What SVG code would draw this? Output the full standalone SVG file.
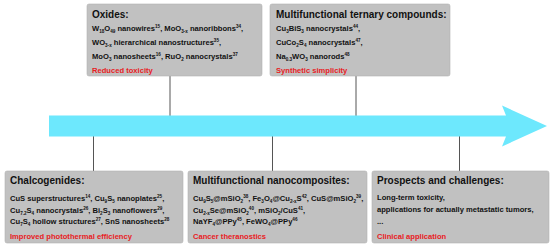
<svg xmlns="http://www.w3.org/2000/svg" width="554" height="248" viewBox="0 0 554 248">
<style>
.box{fill:#c1c1c1;stroke:#b3b3b3;stroke-width:0.6}
text{font-family:"Liberation Sans",Arial,sans-serif;font-weight:bold;fill:#111}
.t{font-size:10px}
.b{font-size:7.6px}
.r{font-size:7.6px;fill:#e8201f}
.sb{font-size:4.6px;baseline-shift:-1.6px}
.sp{font-size:4.6px;baseline-shift:3px}
.con{stroke:#555;stroke-width:1;fill:none}
</style>
<rect width="554" height="248" fill="#fff"/>
<g id="connectors">
<line class="con" x1="170" y1="76" x2="170" y2="116"/>
<line class="con" x1="356" y1="76" x2="356" y2="116"/>
<line class="con" x1="93.5" y1="136" x2="93.5" y2="171"/>
<line class="con" x1="272.5" y1="136" x2="272.5" y2="171"/>
<line class="con" x1="459.5" y1="136" x2="459.5" y2="171"/>
</g>
<g id="arrow">
<polygon points="49,115.5 506,115.5 502,105.5 547,126 502,146.5 506,136.5 49,136.5" fill="#6de8fd"/>
</g>
<g id="oxides">
<rect class="box" x="87" y="4" width="175" height="72" rx="2"/>
<text class="t" x="92" y="17.8">Oxides:</text>
<text class="b" x="92" y="31.4">W<tspan class="sb">18</tspan>O<tspan class="sb">49</tspan> nanowires<tspan class="sp">15</tspan>, MoO<tspan class="sb">3-x</tspan> nanoribbons<tspan class="sp">34</tspan>,</text>
<text class="b" x="92" y="45.2">WO<tspan class="sb">3-x</tspan> hierarchical nanostructures<tspan class="sp">35</tspan>,</text>
<text class="b" x="92" y="58.8">MoO<tspan class="sb">3</tspan> nanosheets<tspan class="sp">16</tspan>, RuO<tspan class="sb">2</tspan> nanocrystals<tspan class="sp">37</tspan></text>
<text class="r" x="92" y="72.5">Reduced toxicity</text>
</g>
<g id="ternary">
<rect class="box" x="270" y="4" width="180" height="72" rx="2"/>
<text class="t" x="276" y="17.8">Multifunctional ternary compounds:</text>
<text class="b" x="276" y="31.4">Cu<tspan class="sb">3</tspan>BiS<tspan class="sb">3</tspan> nanocrystals<tspan class="sp">44</tspan>,</text>
<text class="b" x="276" y="45.2">CuCo<tspan class="sb">2</tspan>S<tspan class="sb">4</tspan> nanocrystals<tspan class="sp">47</tspan>,</text>
<text class="b" x="276" y="58.8">Na<tspan class="sb">0.3</tspan>WO<tspan class="sb">3</tspan> nanorods<tspan class="sp">48</tspan></text>
<text class="r" x="276" y="72.5">Synthetic simplicity</text>
</g>
<g id="chalcogenides">
<rect class="box" x="5" y="171" width="178" height="72" rx="2"/>
<text class="t" x="10" y="184">Chalcogenides:</text>
<text class="b" x="10" y="200.8">CuS superstructures<tspan class="sp">14</tspan>, Cu<tspan class="sb">9</tspan>S<tspan class="sb">5</tspan> nanoplates<tspan class="sp">25</tspan>,</text>
<text class="b" x="10" y="212.6">Cu<tspan class="sb">7.2</tspan>S<tspan class="sb">4</tspan> nanocrystals<tspan class="sp">26</tspan>, Bi<tspan class="sb">2</tspan>S<tspan class="sb">3</tspan> nanoflowers<tspan class="sp">29</tspan>,</text>
<text class="b" x="10" y="224.4">Cu<tspan class="sb">7</tspan>S<tspan class="sb">4</tspan> hollow structures<tspan class="sp">27</tspan>, SnS nanosheets<tspan class="sp">28</tspan></text>
<text class="r" x="10" y="239.2">Improved photothermal efficiency</text>
</g>
<g id="nanocomposites">
<rect class="box" x="188" y="171" width="179" height="72" rx="2"/>
<text class="t" x="193" y="184">Multifunctional nanocomposites:</text>
<text class="b" x="193" y="200.8">Cu<tspan class="sb">9</tspan>S<tspan class="sb">5</tspan>@mSiO<tspan class="sb">2</tspan><tspan class="sp">38</tspan>, Fe<tspan class="sb">3</tspan>O<tspan class="sb">4</tspan>@Cu<tspan class="sb">2-x</tspan>S<tspan class="sp">42</tspan>, CuS@mSiO<tspan class="sb">2</tspan><tspan class="sp">39</tspan>,</text>
<text class="b" x="193" y="212.6">Cu<tspan class="sb">2-x</tspan>Se@mSiO<tspan class="sb">2</tspan><tspan class="sp">40</tspan>, mSiO<tspan class="sb">2</tspan>/CuS<tspan class="sp">41</tspan>,</text>
<text class="b" x="193" y="224.4">NaYF<tspan class="sb">4</tspan>@PPy<tspan class="sp">45</tspan>, FeWO<tspan class="sb">4</tspan>@PPy<tspan class="sp">46</tspan></text>
<text class="r" x="193" y="239.2">Cancer theranostics</text>
</g>
<g id="prospects">
<rect class="box" x="372" y="171" width="177" height="72" rx="2"/>
<text class="t" x="377" y="184">Prospects and challenges:</text>
<text class="b" x="377" y="200.3">Long-term toxicity,</text>
<text class="b" x="377" y="212.3">applications for actually metastatic tumors,</text>
<text class="b" x="377" y="224.4">...</text>
<text class="r" x="377" y="239.2">Clinical application</text>
</g>
</svg>
